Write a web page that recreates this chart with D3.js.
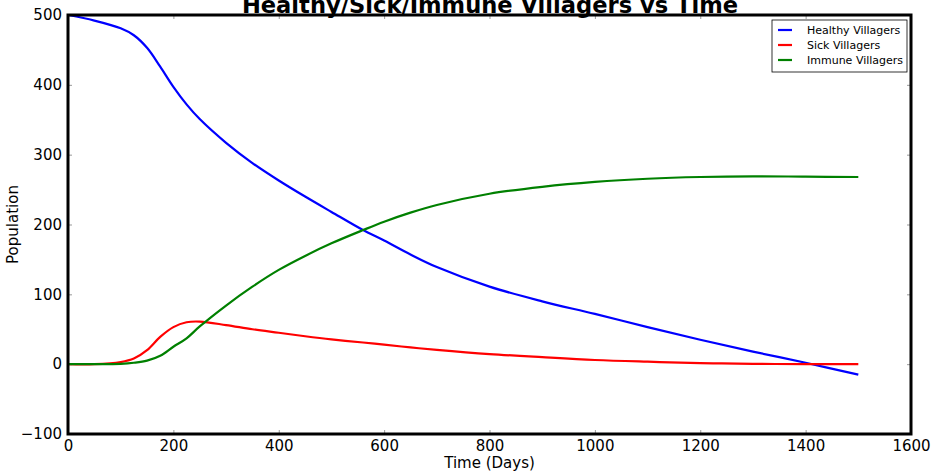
<!DOCTYPE html>
<html>
<head>
<meta charset="utf-8">
<script src="https://cdn.jsdelivr.net/npm/d3@7"></script>
<style>
  html, body { margin: 0; padding: 0; background: #fff; }
  svg { display: block; font-family: "DejaVu Sans", sans-serif; }
</style>
</head>
<body>
<svg id="chart" width="933" height="473"></svg>
<script>
const days = [0,50,100,125,150,175,200,225,250,300,350,400,450,500,560,600,650,700,800,900,1000,1100,1200,1300,1400,1500];
const healthy = [500,492,481,471,453,426,397,372,351,317,288,263,240,218,192,177,157,139,111,90,72,53,35,18,2,-15];
const sick = [0,0,3,8,20,39,53,60,61,56,50,45,40,35.5,31,28,24,20.5,14.5,10,6,3.5,1.5,0.5,0,0];
const immune = [0,0,0.5,2,5,12,25,37,54,84,111,135,155,173,192,204,217,228,244,254,261,265.5,268,269,268.5,268];
const xTicks = [0,200,400,600,800,1000,1200,1400,1600];
const yTicks = [-100,0,100,200,300,400,500];
const seriesNames = ["Healthy Villagers","Sick Villagers","Immune Villagers"];
const seriesColors = ["#0000ff","#ff0000","#008000"];
const seriesValues = [healthy, sick, immune];

const svg = d3.select("#chart");
const L = 68, R = 911, T = 15, B = 434;
const x = d3.scaleLinear().domain([0,1600]).range([L,R]);
const y = d3.scaleLinear().domain([-100,500]).range([B,T]);

svg.append("defs").append("clipPath").attr("id","clip")
  .append("rect").attr("x",L).attr("y",T).attr("width",R-L).attr("height",B-T);

const tickLen = 4;
const xAxisB = d3.axisBottom(x).tickValues(xTicks).tickSizeInner(-tickLen).tickSizeOuter(0).tickPadding(6).tickFormat(d3.format("d"));
const xAxisT = d3.axisTop(x).tickValues(xTicks).tickSizeInner(-tickLen).tickSizeOuter(0).tickFormat("");
const yAxisL = d3.axisLeft(y).tickValues(yTicks).tickSizeInner(-tickLen).tickSizeOuter(0).tickPadding(6)
  .tickFormat(d => d < 0 ? "\u2212" + Math.abs(d) : d);
const yAxisR = d3.axisRight(y).tickValues(yTicks).tickSizeInner(-tickLen).tickSizeOuter(0).tickFormat("");

function styleAxis(g){
  g.select(".domain").remove();
  g.selectAll(".tick line").attr("stroke","#999").attr("stroke-width",1);
  g.selectAll(".tick text").attr("fill","#000").style("font-size","15px").style("font-family","DejaVu Sans, sans-serif");
}
svg.append("g").attr("transform",`translate(0,${B})`).call(xAxisB).call(styleAxis);
svg.append("g").attr("transform",`translate(0,${T})`).call(xAxisT).call(styleAxis);
svg.append("g").attr("transform",`translate(${L},0)`).call(yAxisL).call(styleAxis);
svg.append("g").attr("transform",`translate(${R},0)`).call(yAxisR).call(styleAxis);

const line = d3.line().x((d,i)=>x(days[i])).y(d=>y(d)).curve(d3.curveCatmullRom.alpha(0.5));
const plot = svg.append("g").attr("clip-path","url(#clip)");
seriesValues.forEach((vals,k)=>{
  plot.append("path").datum(vals).attr("d",line)
    .attr("fill","none").attr("stroke",seriesColors[k]).attr("stroke-width",2.2)
    .attr("stroke-linejoin","round");
});

svg.append("rect").attr("x",L).attr("y",T).attr("width",R-L).attr("height",B-T)
  .attr("fill","none").attr("stroke","#000").attr("stroke-width",3);

svg.append("text").attr("x",490).attr("y",12.5).attr("text-anchor","middle")
  .style("font-size","22.6px").style("font-weight","bold").text("Healthy/Sick/Immune Villagers vs Time");

svg.append("text").attr("x",(L+R)/2).attr("y",468).attr("text-anchor","middle")
  .style("font-size","15px").text("Time (Days)");
svg.append("text").attr("transform",`translate(18,${(T+B)/2}) rotate(-90)`).attr("text-anchor","middle")
  .style("font-size","15px").text("Population");

const lg = svg.append("g");
lg.append("rect").attr("x",772).attr("y",20).attr("width",135).attr("height",52)
  .attr("fill","#fff").attr("stroke","#000").attr("stroke-width",0.8);
seriesNames.forEach((n,k)=>{
  const yy = 30 + k*15;
  lg.append("line").attr("x1",778).attr("x2",792).attr("y1",yy).attr("y2",yy)
    .attr("stroke",seriesColors[k]).attr("stroke-width",2.2);
  lg.append("text").attr("x",807).attr("y",yy+4).style("font-size","11px").text(n);
});
</script>
</body>
</html>
